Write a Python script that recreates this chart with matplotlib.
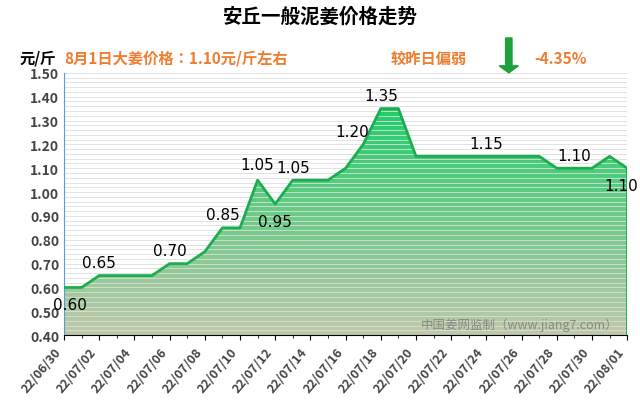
import numpy as np
import matplotlib.pyplot as plt
from matplotlib.colors import LinearSegmentedColormap

plt.rcParams['font.family'] = ['Noto Sans CJK SC', 'Noto Sans CJK JP', 'Noto Sans CJK TC',
                               'Noto Sans CJK KR', 'DejaVu Sans']

dates = ['22/06/30'] + ['22/07/%02d' % d for d in range(1, 32)] + ['22/08/01']
prices = [0.60, 0.60, 0.65, 0.65, 0.65, 0.65, 0.70, 0.70, 0.75, 0.85, 0.85,
          1.05, 0.95, 1.05, 1.05, 1.05, 1.10, 1.20, 1.35, 1.35, 1.15, 1.15,
          1.15, 1.15, 1.15, 1.15, 1.15, 1.15, 1.10, 1.10, 1.10, 1.15, 1.10]
label_idx = [0, 2, 6, 9, 11, 12, 13, 17, 18, 24, 29, 32]
label_off = {0: (4, -18), 12: (0, -18), 32: (-4, -18), 11: (0, 6), 17: (-8, 4)}

fig = plt.figure(figsize=(6.4, 4.1), dpi=100)
ax = fig.add_axes([0.1, 0.18, 0.88, 0.64])
x = np.arange(len(prices))
ymin = 0.4

# gradient fill under line
cmap = LinearSegmentedColormap.from_list('g', ['#bfc9a8', '#1fcf6a'])
grad = np.linspace(0, 1, 256).reshape(-1, 1)
img = ax.imshow(grad, extent=[0, len(x) - 1, ymin, 1.35], origin='lower',
                aspect='auto', cmap=cmap, zorder=1)
poly = ax.fill_between(x, prices, ymin, color='none')
img.set_clip_path(poly.get_paths()[0], transform=ax.transData)
ax.plot(x, prices, color='#1aae50', lw=2, zorder=3)
ax.vlines([len(x) - 1], ymin, prices[-1], color='#1aae50', lw=2, zorder=3)

for i in label_idx:
    ax.annotate('%.2f' % prices[i], (i, prices[i]), xytext=label_off.get(i, (0, 4)),
                textcoords='offset points', ha='center', va='bottom',
                fontsize=11, family='DejaVu Sans', zorder=4)

ax.set_xlim(0, len(x) - 1)
ax.set_ylim(ymin, 1.5)
ax.set_yticks(np.arange(0.4, 1.51, 0.1))
ax.set_yticklabels(['%.2f' % v for v in np.arange(0.4, 1.51, 0.1)],
                   fontsize=10, fontweight='bold', color='#444444')
ax.set_yticks(np.arange(0.4, 1.5, 0.02), minor=True)
ax.grid(axis='y', which='both', color='#dddddd', lw=0.6, zorder=0)
ax.set_xticks(x[::2])
ax.set_xticklabels(dates[::2], rotation=50, ha='right', fontsize=9,
                   fontweight='bold', color='#444444')
ax.set_xticks(x, minor=True)
ax.tick_params(axis='y', which='both', length=0)
for s in ['top', 'right']:
    ax.spines[s].set_visible(False)
ax.spines['left'].set_color('#5b9bd5')

ax.text(len(x) - 1.5, 0.43, '中国姜网监制（www.jiang7.com）', ha='right',
        fontsize=9, color='#888888', zorder=4)

fig.text(0.5, 0.945, '安丘一般泥姜价格走势', ha='center', fontsize=14, fontweight='bold')
fig.text(0.03, 0.845, '元/斤', fontsize=11, fontweight='bold')
fig.text(0.1, 0.845, '8月1日大姜价格：1.10元/斤左右', fontsize=11,
         fontweight='bold', color='#ed7d31')
fig.text(0.61, 0.845, '较昨日偏弱', fontsize=11, fontweight='bold', color='#ed7d31')
fig.text(0.835, 0.845, '-4.35%', fontsize=11, fontweight='bold', color='#ed7d31')
fig.patches.append(plt.Arrow(0.795, 0.905, 0, -0.085, width=0.05, color='#1ea13c',
                             transform=fig.transFigure, figure=fig))

fig.savefig('out.png')
